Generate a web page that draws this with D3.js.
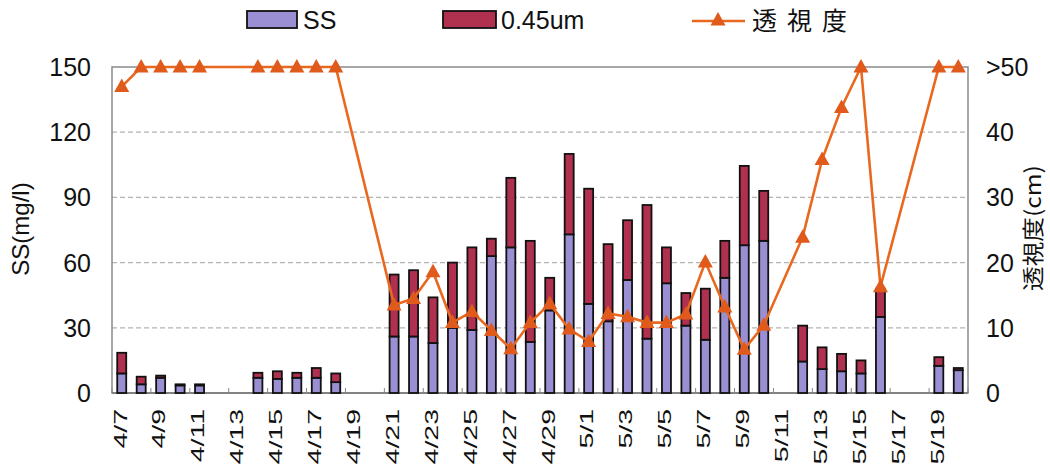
<!DOCTYPE html>
<html><head><meta charset="utf-8">
<script src="https://cdn.jsdelivr.net/npm/d3@7"></script>
<style>body{margin:0;background:#fff;}text{font-family:"Liberation Sans",Arial,sans-serif;fill:#111;}</style>
</head><body><svg id="c" width="1050" height="467"></svg>
<script>
const dates = ["4/7","4/8","4/9","4/10","4/11","4/12","4/13","4/14","4/15","4/16","4/17","4/18","4/19","4/20","4/21","4/22","4/23","4/24","4/25","4/26","4/27","4/28","4/29","4/30","5/1","5/2","5/3","5/4","5/5","5/6","5/7","5/8","5/9","5/10","5/11","5/12","5/13","5/14","5/15","5/16","5/17","5/18","5/19","5/20"];
const ssValues = [9,4,7,3.5,3.5,null,null,7,6.5,7,7,5,null,null,26,26,23,30,29,63,67,23.5,38,73,41,33,52,25,50.5,31,24.5,53,68,70,null,14.5,11,10,9,35,null,null,12.5,10.5];
const fineValues = [9.5,3.5,1,0.5,0.5,null,null,2.3,3.5,2.3,4.5,4,null,null,28.5,30.5,21,30,38,8,32,46.5,15,37,53,35.5,27.5,61.5,16.5,15,23.5,17,36.5,23,null,16.5,10,8,6,13,null,null,4,1];
const transparency = [47,50,50,50,50,null,null,50,50,50,50,50,null,null,13.5,14.5,18.6,10.8,12.5,9.6,6.8,10.8,13.7,9.8,7.9,12.2,11.7,10.8,10.8,12.1,20.1,13.2,6.7,10.4,null,23.9,35.8,43.8,50,16.3,null,null,50,50];
const leftTicks = [0,30,60,90,120,150];
const rightTicks = [0,10,20,30,40,50];
const rightTickLabels = ["0","10","20","30","40",">50"];
const xLabelDates = dates.filter((d,i)=>i%2===0);

const svg = d3.select("#c");
const L=112,R=968,T=67,B=393;
const x = d3.scaleBand().domain(dates).range([L,R]).paddingInner(0.5).paddingOuter(0.25);
const step = x.step();
const y = d3.scaleLinear().domain([0,150]).range([B,T]);
const y2 = d3.scaleLinear().domain([0,50]).range([B,T]);

// gridlines
svg.append("g").selectAll("line").data(leftTicks.filter(t=>t>0&&t<150)).join("line")
  .attr("x1",L).attr("x2",R).attr("y1",d=>y(d)).attr("y2",d=>y(d))
  .attr("stroke","#b4b4b4").attr("stroke-width",1.2).attr("stroke-dasharray","5,3");
// plot border
svg.append("rect").attr("x",L).attr("y",T).attr("width",R-L).attr("height",B-T)
  .attr("fill","none").attr("stroke","#8a8a8a").attr("stroke-width",1.5);
svg.append("line").attr("x1",L).attr("x2",R).attr("y1",B).attr("y2",B).attr("stroke","#777").attr("stroke-width",1.5);
// minor ticks every 2 categories
svg.append("g").selectAll("line").data(d3.range(0,dates.length+1,2)).join("line")
  .attr("x1",k=>L+k*step).attr("x2",k=>L+k*step).attr("y1",B).attr("y2",B-5)
  .attr("stroke","#888").attr("stroke-width",1);

// bars
const bw = 9;
const barG = svg.append("g");
dates.forEach((d,i)=>{
  if(ssValues[i]==null) return;
  const cx = x(d)+x.bandwidth()/2;
  const s = ssValues[i], f = fineValues[i];
  barG.append("rect").attr("x",cx-bw/2).attr("width",bw).attr("y",y(s)).attr("height",y(0)-y(s))
    .attr("fill","#9a8fd2").attr("stroke","#111").attr("stroke-width",1.8);
  barG.append("rect").attr("x",cx-bw/2).attr("width",bw).attr("y",y(s+f)).attr("height",y(s)-y(s+f))
    .attr("fill","#b0304f").attr("stroke","#111").attr("stroke-width",1.8);
});

// line
const pts = dates.map((d,i)=>({d,v:transparency[i]})).filter(p=>p.v!=null);
const cxOf = d=>x(d)+x.bandwidth()/2;
svg.append("path").datum(pts)
  .attr("d",d3.line().x(p=>cxOf(p.d)).y(p=>y2(p.v)))
  .attr("fill","none").attr("stroke","#e8681f").attr("stroke-width",2.6);
const tri = "M0,-8L7.5,5.5L-7.5,5.5Z";
svg.append("g").selectAll("path").data(pts).join("path")
  .attr("d",tri).attr("transform",p=>`translate(${cxOf(p.d)},${y2(p.v)})`)
  .attr("fill","#e05a1c");

// left axis labels
svg.append("g").selectAll("text").data(leftTicks).join("text")
  .attr("x",91).attr("y",d=>y(d)).attr("dy","0.36em").attr("text-anchor","end")
  .attr("font-size",25).text(d=>d);
svg.append("text").attr("transform","translate(29,229) rotate(-90)")
  .attr("text-anchor","middle").attr("font-size",24).text("SS(mg/l)");
// right axis labels
svg.append("g").selectAll("text").data(rightTicks).join("text")
  .attr("x",986).attr("y",d=>y2(d)).attr("dy","0.36em").attr("text-anchor","start")
  .attr("font-size",25).text((d,i)=>rightTickLabels[i]);
svg.append("text").attr("transform","translate(1041,228) rotate(-90) scale(1.12,1)")
  .attr("text-anchor","middle").attr("font-size",22)
  .style("font-family","'Noto Sans CJK JP','Liberation Sans',sans-serif").text("透視度(cm)");
// x labels
svg.append("g").selectAll("text").data(xLabelDates).join("text")
  .attr("transform",d=>`translate(${cxOf(d)-2},409) rotate(-90) scale(1.5,1)`)
  .attr("dy","0.36em").attr("text-anchor","end").attr("font-size",19).text(d=>d);

// legend
const lg = svg.append("g");
lg.append("rect").attr("x",247).attr("y",11).attr("width",50).attr("height",17).attr("fill","#9a8fd2").attr("stroke","#111").attr("stroke-width",1.8);
lg.append("text").attr("x",303).attr("y",29).attr("font-size",25).text("SS");
lg.append("rect").attr("x",443).attr("y",11).attr("width",53).attr("height",17).attr("fill","#b0304f").attr("stroke","#111").attr("stroke-width",1.8);
lg.append("text").attr("x",501).attr("y",29).attr("font-size",25).text("0.45um");
lg.append("line").attr("x1",692).attr("x2",745).attr("y1",21).attr("y2",21).attr("stroke","#e8681f").attr("stroke-width",2.6);
lg.append("path").attr("d",tri).attr("transform","translate(718,20)").attr("fill","#e05a1c");
lg.append("text").attr("x",752).attr("y",30).attr("font-size",25).attr("letter-spacing",10)
  .style("font-family","'Noto Sans CJK JP',sans-serif").text("透視度");
</script></body></html>
